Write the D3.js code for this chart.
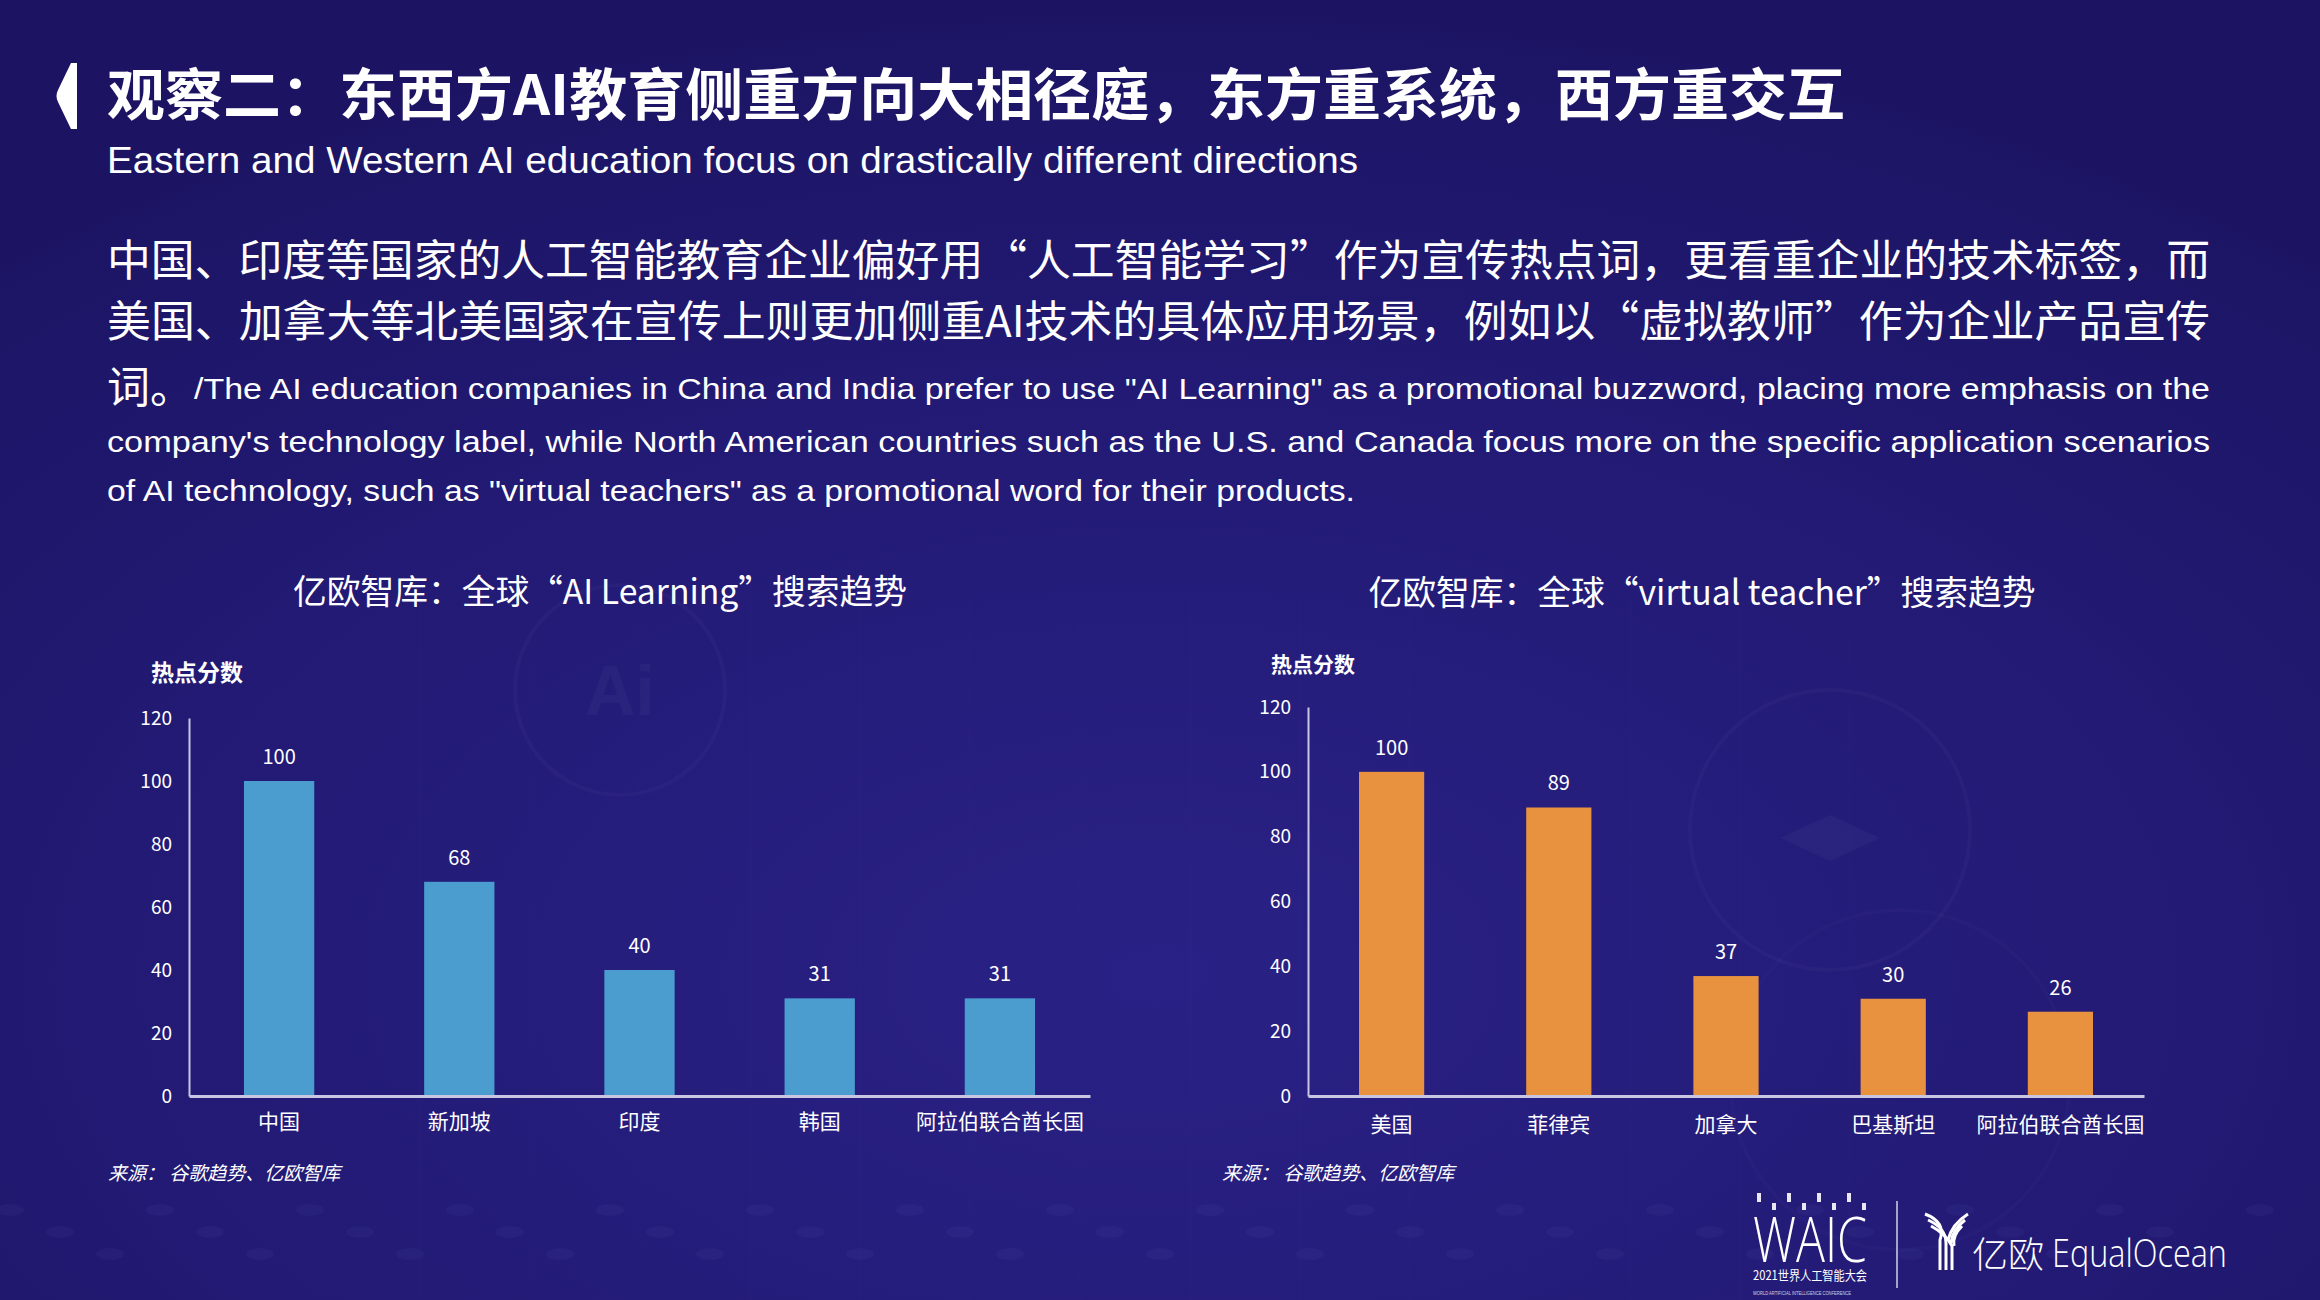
<!DOCTYPE html>
<html>
<head>
<meta charset="utf-8">
<script src="https://cdn.jsdelivr.net/npm/d3@7"></script>
<style>
  html, body { margin: 0; padding: 0; background: #1f176c; }
  svg { display: block; }
</style>
</head>
<body>
<svg id="chart" width="2320" height="1300"></svg>
<script>
// ---------- data ----------
const titleText = "观察二：东西方AI教育侧重方向大相径庭，东方重系统，西方重交互";
const subtitleText = "Eastern and Western AI education focus on drastically different directions";
const paraCn1 = "中国、印度等国家的人工智能教育企业偏好用“人工智能学习”作为宣传热点词，更看重企业的技术标签，而";
const paraCn2 = "美国、加拿大等北美国家在宣传上则更加侧重AI技术的具体应用场景，例如以“虚拟教师”作为企业产品宣传";
const paraCn3 = "词。";
const paraEn1 = "/The AI education companies in China and India prefer to use \"AI Learning\" as a promotional buzzword, placing more emphasis on the";
const paraEn2 = "company's technology label, while North American countries such as the U.S. and Canada focus more on the specific application scenarios";
const paraEn3 = "of AI technology, such as \"virtual teachers\" as a promotional word for their products.";

const leftTitle = "亿欧智库：全球“AI Learning”搜索趋势";
const leftCategories = ["中国", "新加坡", "印度", "韩国", "阿拉伯联合酋长国"];
const leftValues = [100, 68, 40, 31, 31];

const rightTitle = "亿欧智库：全球“virtual teacher”搜索趋势";
const rightCategories = ["美国", "菲律宾", "加拿大", "巴基斯坦", "阿拉伯联合酋长国"];
const rightValues = [100, 89, 37, 30, 26];

const yTicks = [0, 20, 40, 60, 80, 100, 120];
const yLabel = "热点分数";
const sourceText = "来源： 谷歌趋势、亿欧智库";

// ---------- setup ----------
const svg = d3.select("#chart");
const CJK = "'Noto Sans CJK SC', 'Noto Sans', sans-serif";
const SANS = "'Liberation Sans', Arial, 'Noto Sans CJK SC', sans-serif";

const defs = svg.append("defs");
const rg = defs.append("radialGradient").attr("id", "bg").attr("cx", "50%").attr("cy", "75%").attr("r", "75%");
rg.append("stop").attr("offset", "0%").attr("stop-color", "#2a2186");
rg.append("stop").attr("offset", "60%").attr("stop-color", "#221a74");
rg.append("stop").attr("offset", "100%").attr("stop-color", "#1c1463");
svg.append("rect").attr("width", 2320).attr("height", 1300).attr("fill", "url(#bg)");

// faint decorations
const deco = svg.append("g").attr("fill", "none").attr("stroke", "#ffffff").attr("stroke-opacity", 0.025).attr("stroke-width", 4);
deco.append("circle").attr("cx", 620).attr("cy", 690).attr("r", 105);
deco.append("circle").attr("cx", 1830).attr("cy", 830).attr("r", 140);
deco.append("circle").attr("cx", 1900).attr("cy", 1080).attr("r", 170).attr("stroke-opacity", 0.015);
svg.append("text").attr("x", 620).attr("y", 715).attr("text-anchor", "middle")
  .attr("font-family", SANS).attr("font-weight", 700).attr("font-size", 70)
  .attr("fill", "#ffffff").attr("fill-opacity", 0.03).text("Ai");
svg.append("path").attr("d", "M1780,838 L1830,815 L1880,838 L1830,861 Z")
  .attr("fill", "#ffffff").attr("fill-opacity", 0.03);
const grid = svg.append("g").attr("stroke", "#ffffff").attr("stroke-opacity", 0.02);
d3.range(0, 14).forEach(i => {
  grid.append("line").attr("x1", 420 + i * 110).attr("x2", 420 + i * 110).attr("y1", 600).attr("y2", 1300);
});
const dots = svg.append("g").attr("fill", "#8a84d8").attr("fill-opacity", 0.06);
d3.range(0, 46).forEach(i => {
  dots.append("ellipse").attr("cx", i * 50 + 10).attr("cy", 1210 + (i % 3) * 22).attr("rx", 14).attr("ry", 6);
});

// ---------- header ----------
svg.append("path")
  .attr("d", "M77,63 L77,129 L71,129 L58,102 Q55,96 58,90 L71,63 Z")
  .attr("fill", "#ffffff");

svg.append("text")
  .attr("x", 107).attr("y", 115)
  .attr("font-family", CJK).attr("font-weight", 700).attr("font-size", 56)
  .attr("fill", "#ffffff")
  .attr("textLength", 1738).attr("lengthAdjust", "spacingAndGlyphs")
  .text(titleText);

svg.append("text")
  .attr("x", 107).attr("y", 173)
  .attr("font-family", SANS).attr("font-size", 36)
  .attr("fill", "#ffffff")
  .attr("textLength", 1251).attr("lengthAdjust", "spacingAndGlyphs")
  .text(subtitleText);

// paragraph
const para = svg.append("g").attr("fill", "#ffffff");
para.append("text").attr("x", 107).attr("y", 276)
  .attr("font-family", CJK).attr("font-size", 43)
  .attr("textLength", 2103).attr("lengthAdjust", "spacingAndGlyphs").text(paraCn1);
para.append("text").attr("x", 107).attr("y", 337)
  .attr("font-family", CJK).attr("font-size", 43)
  .attr("textLength", 2103).attr("lengthAdjust", "spacingAndGlyphs").text(paraCn2);
para.append("text").attr("x", 107).attr("y", 403)
  .attr("font-family", CJK).attr("font-size", 43).text(paraCn3);
para.append("text").attr("x", 194).attr("y", 399)
  .attr("font-family", SANS).attr("font-size", 30)
  .attr("textLength", 2016).attr("lengthAdjust", "spacingAndGlyphs").text(paraEn1);
para.append("text").attr("x", 107).attr("y", 452)
  .attr("font-family", SANS).attr("font-size", 30)
  .attr("textLength", 2103).attr("lengthAdjust", "spacingAndGlyphs").text(paraEn2);
para.append("text").attr("x", 107).attr("y", 501)
  .attr("font-family", SANS).attr("font-size", 30)
  .attr("textLength", 1248).attr("lengthAdjust", "spacingAndGlyphs").text(paraEn3);

// ---------- charts ----------
function drawChart(cfg) {
  const g = svg.append("g");
  const x = d3.scaleBand().domain(cfg.categories).range([cfg.x0, cfg.x1]).padding(0);
  const y = d3.scaleLinear().domain([0, 120]).range([cfg.yBottom, cfg.yTop]);
  const barW = x.bandwidth() * 0.39;

  // title
  g.append("text")
    .attr("x", cfg.titleX).attr("y", cfg.titleY)
    .attr("text-anchor", "middle")
    .attr("font-family", CJK).attr("font-size", 34).attr("fill", "#ffffff")
    .attr("textLength", cfg.titleW).attr("lengthAdjust", "spacingAndGlyphs")
    .text(cfg.title);

  // y label
  g.append("text")
    .attr("x", cfg.labelX).attr("y", cfg.labelY)
    .attr("font-family", CJK).attr("font-weight", 700).attr("font-size", cfg.labelSize)
    .attr("fill", "#ffffff").text(yLabel);

  // y axis
  const ya = g.append("g").attr("transform", `translate(${cfg.x0},0)`)
    .call(d3.axisLeft(y).tickValues(yTicks).tickSize(0).tickPadding(17).tickFormat(d3.format("d")));
  ya.select(".domain").attr("stroke", "#c9c6e3").attr("stroke-width", 2);
  ya.selectAll("text").attr("font-family", CJK).attr("font-size", 19).attr("fill", "#ffffff");

  // bars
  g.selectAll(".bar").data(cfg.values).join("rect")
    .attr("x", (d, i) => x(cfg.categories[i]) + (x.bandwidth() - barW) / 2)
    .attr("y", d => y(d))
    .attr("width", barW)
    .attr("height", d => y(0) - y(d))
    .attr("fill", cfg.color);

  // value labels
  g.selectAll(".val").data(cfg.values).join("text")
    .attr("x", (d, i) => x(cfg.categories[i]) + x.bandwidth() / 2)
    .attr("y", d => y(d) - 17)
    .attr("text-anchor", "middle")
    .attr("font-family", CJK).attr("font-size", 20).attr("fill", "#ffffff")
    .text(d => d);

  // x axis
  const xa = g.append("g").attr("transform", `translate(0,${cfg.yBottom})`)
    .call(d3.axisBottom(x).tickSize(0).tickPadding(cfg.xPad));
  xa.select(".domain").attr("stroke", "#c9c6e3").attr("stroke-width", 3);
  xa.selectAll("text").attr("font-family", CJK).attr("font-size", 21).attr("fill", "#ffffff");

  // source
  g.append("text")
    .attr("x", cfg.srcX).attr("y", 1180)
    .attr("font-family", CJK).attr("font-size", 19).attr("font-style", "italic")
    .attr("fill", "#ffffff").text(sourceText);
}

drawChart({
  title: leftTitle, titleX: 600, titleY: 604, titleW: 614,
  categories: leftCategories, values: leftValues, color: "#4b9dcf",
  x0: 189, x1: 1090, yBottom: 1096, yTop: 718,
  labelX: 151, labelY: 681, labelSize: 23,
  xPad: 18, srcX: 108
});
drawChart({
  title: rightTitle, titleX: 1702, titleY: 605, titleW: 667,
  categories: rightCategories, values: rightValues, color: "#e8923f",
  x0: 1308, x1: 2144, yBottom: 1096, yTop: 707,
  labelX: 1271, labelY: 672, labelSize: 21,
  xPad: 21, srcX: 1222
});

// ---------- logos ----------
const logo = svg.append("g").attr("fill", "#ffffff");
// WAIC tick marks
d3.range(0, 8).forEach(i => {
  const tall = i % 2 === 0;
  logo.append("rect")
    .attr("x", 1757 + i * 15).attr("y", tall ? 1193 : 1203)
    .attr("width", 4).attr("height", tall ? 9 : 7)
    .attr("fill-opacity", 0.9);
});
logo.append("text").attr("x", 1753).attr("y", 1262)
  .attr("font-family", "'Open Sans', sans-serif").attr("font-weight", 300).attr("font-size", 62)
  .attr("textLength", 114).attr("lengthAdjust", "spacingAndGlyphs").text("WAIC");
logo.append("text").attr("x", 1753).attr("y", 1280)
  .attr("font-family", CJK).attr("font-size", 13)
  .attr("textLength", 114).attr("lengthAdjust", "spacingAndGlyphs").text("2021世界人工智能大会");
logo.append("text").attr("x", 1753).attr("y", 1295)
  .attr("font-family", SANS).attr("font-size", 5).attr("fill-opacity", 0.8)
  .attr("textLength", 98).attr("lengthAdjust", "spacingAndGlyphs").text("WORLD ARTIFICIAL INTELLIGENCE CONFERENCE");
logo.append("line").attr("x1", 1897).attr("x2", 1897).attr("y1", 1201).attr("y2", 1288)
  .attr("stroke", "#ffffff").attr("stroke-width", 1.5).attr("stroke-opacity", 0.8);
// Y mark
const ym = svg.append("g").attr("fill", "none").attr("stroke", "#ffffff").attr("stroke-width", 3);
[0, 6, 12].forEach(o => {
  ym.append("path").attr("d", `M${1925 + o / 2},${1214 + o} Q${1946},${1222 + o} ${1946 - 6 + o},${1240 + o / 2} L${1946 - 6 + o},1270`);
  ym.append("path").attr("d", `M${1968 - o / 2},${1214 + o} Q${1952},${1224 + o} ${1948 + o / 2},${1240 + o / 2}`);
});
logo.append("text").attr("x", 1972).attr("y", 1268)
  .attr("font-family", CJK).attr("font-weight", 300).attr("font-size", 36)
  .text("亿欧");
logo.append("text").attr("x", 2052).attr("y", 1267)
  .attr("font-family", "'Open Sans', sans-serif").attr("font-weight", 300).attr("font-size", 38)
  .attr("textLength", 175).attr("lengthAdjust", "spacingAndGlyphs")
  .text("EqualOcean");
</script>
</body>
</html>
